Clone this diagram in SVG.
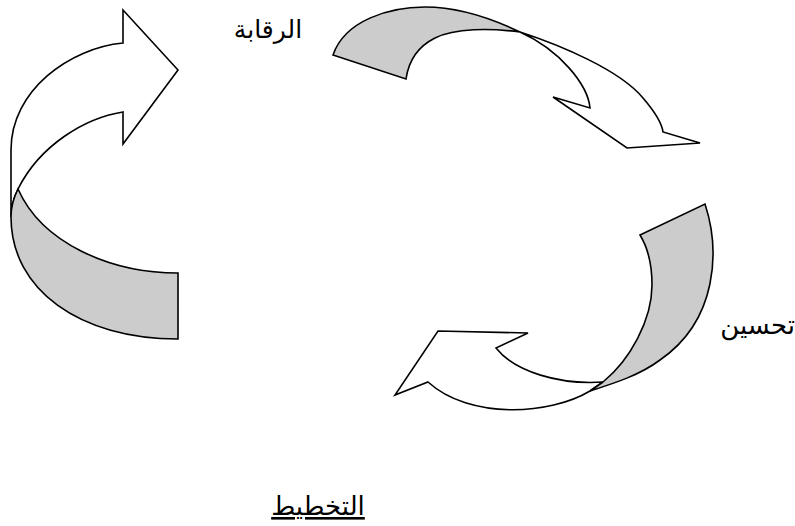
<svg xmlns="http://www.w3.org/2000/svg" width="795" height="526" viewBox="0 0 795 526">
<style>
.w{fill:#ffffff;stroke:#000;stroke-width:1.6;stroke-linejoin:miter}
.s{fill:#cccccc;stroke:#000;stroke-width:1.6;stroke-linejoin:miter}
.t{font-family:"DejaVu Sans",sans-serif;font-size:26px;fill:#000}
</style>
<rect width="795" height="526" fill="#ffffff"/>
<g id="arrow-left">
<path class="w" d="M11,217 L11,150 C11,90 70,48 123,43 L123,10 L178,70 L123,144 L123,112 C85,118 40,145 18,189 C14,197 11,207 11,217 Z"/>
<path class="s" d="M18,189 C42,243 110,273 178,273 L178,339 C80,339 11,290 11,217 C11,207 14,197 18,189 Z"/>
</g>
<g id="arrow-top">
<path class="w" d="M520,32 C560,45 620,70 643,98 C655,112 662,124 663,132 L700,143 L627,148 L553,97 L590,108 C588,85 560,50 520,32 Z"/>
<path class="s" d="M333,55 C345,20 390,7 425,7 C460,7 495,20 520,32 C490,28 455,28 435,38 C415,48 408,65 406,79 Z"/>
</g>
<g id="arrow-bottom">
<path class="w" d="M590,391 C550,415 470,420 428,382 L395,395 L438,331 L528,333 L496,348 C515,372 560,385 603,382 Z"/>
<path class="s" d="M640,235 L705,204 C720,250 718,320 660,360 C640,375 615,383 590,391 L603,382 C630,360 652,320 652,285 C652,265 648,248 640,235 Z"/>
</g>
<g id="labels">
<text class="t" x="268" y="38" text-anchor="middle" style="font-size:25px">الرقابة</text>
<text class="t" x="795" y="334" text-anchor="end">تحسين</text>
<text class="t" x="318" y="515" text-anchor="middle" text-decoration="underline">التخطيط</text>
</g>
</svg>
